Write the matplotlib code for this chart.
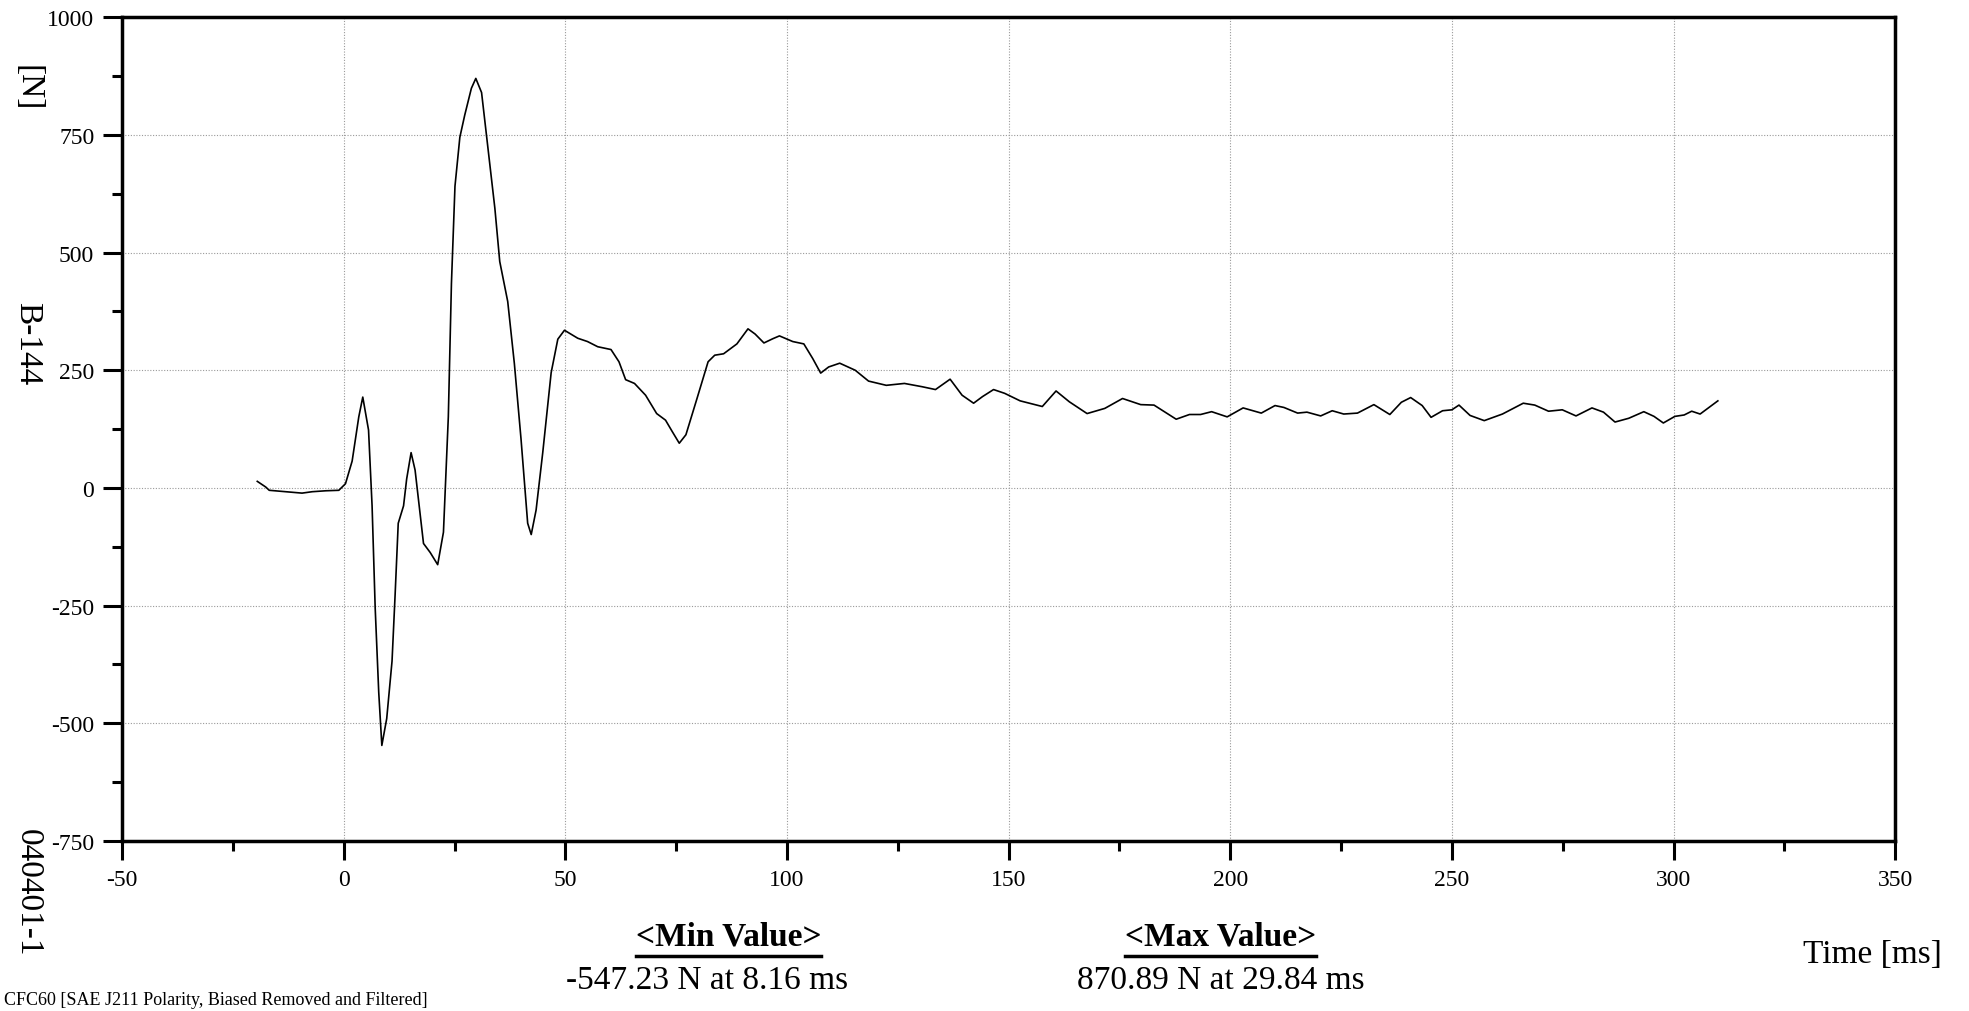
import numpy as np
import matplotlib
matplotlib.use('Agg')
import matplotlib.pyplot as plt
from matplotlib.lines import Line2D
from matplotlib.ticker import MultipleLocator

plt.rcParams['font.family'] = ['Liberation Serif', 'DejaVu Serif']
plt.rcParams['axes.unicode_minus'] = False

# force trace: time [ms], force [N]
time_ms = [-19.5, -17.6, -16.8, -13.0, -9.4, -7.1, -4.0, -1.1, 0.4, 1.9, 3.4, 4.3,
           5.6, 6.4, 7.1, 7.9, 8.6, 9.7, 10.9, 11.6, 12.3, 13.5, 14.2, 15.2, 16.1,
           18.0, 19.5, 21.2, 22.5, 23.6, 24.3, 25.1, 26.2, 27.3, 28.8, 29.8, 31.1,
           32.6, 34.1, 35.2, 37.0, 38.5, 40.0, 41.5, 42.3, 43.4, 44.9, 46.8, 48.3,
           49.8, 52.8, 55.0, 57.3, 60.3, 62.1, 63.6, 65.6, 68.1, 70.6, 72.6, 74.1,
           75.7, 77.2, 79.7, 82.2, 83.7, 85.7, 88.7, 91.2, 92.8, 94.8, 96.8, 98.3,
           101.3, 103.8, 105.8, 107.6, 109.4, 111.9, 115.4, 118.4, 122.4, 126.5,
           130.5, 133.5, 136.8, 139.5, 142.1, 144.1, 146.6, 149.1, 152.6, 157.6,
           160.7, 163.7, 167.7, 171.7, 175.7, 179.8, 182.8, 187.8, 190.8, 193.3,
           195.8, 199.3, 202.9, 207.0, 210.1, 212.1, 215.2, 217.3, 220.4, 223.0,
           225.6, 228.7, 232.4, 236.0, 238.6, 240.7, 243.3, 245.3, 247.9, 250.0,
           251.6, 254.1, 257.3, 261.4, 266.1, 268.7, 271.8, 274.9, 278.0, 281.6,
           284.2, 286.8, 289.9, 293.3, 295.6, 297.7, 300.3, 302.4, 304.1, 306.0,
           310.0]
force_n = [14, 2, -5, -8, -11, -8, -6, -5, 9, 57, 151, 193,
           123, -38, -255, -434, -547, -490, -368, -226, -75, -38, 19, 75, 38,
           -118, -137, -163, -94, 151, 434, 641, 745, 792, 849, 870, 840,
           717, 594, 481, 396, 264, 104, -75, -99, -47, 75, 245, 316,
           335, 318, 311, 300, 294, 268, 230, 222, 197, 158, 144, 120,
           95, 113, 190, 268, 282, 285, 306, 338, 327, 308, 317, 323,
           311, 306, 275, 244, 257, 265, 250, 227, 218, 222,
           215, 209, 231, 197, 180, 194, 209, 201, 185, 173,
           206, 183, 158, 169, 190, 177, 176, 146, 156, 156,
           162, 151, 170, 159, 175, 171, 159, 161, 153, 164,
           157, 159, 177, 156, 182, 192, 175, 150, 164, 166,
           176, 154, 143, 157, 180, 176, 163, 166, 153, 170,
           161, 140, 148, 162, 152, 138, 152, 155, 163, 157,
           185]

min_text = '-547.23 N at 8.16 ms'
max_text = '870.89 N at 29.84 ms'

fig = plt.figure(figsize=(19.69, 10.12), dpi=100)
ax = fig.add_axes([0.062, 0.168, 0.9005, 0.814])

ax.plot(time_ms, force_n, color='black', lw=1.2)

ax.set_xlim(-50, 350)
ax.set_ylim(-750, 1000)
ax.xaxis.set_major_locator(MultipleLocator(50))
ax.xaxis.set_minor_locator(MultipleLocator(25))
ax.yaxis.set_major_locator(MultipleLocator(250))
ax.yaxis.set_minor_locator(MultipleLocator(125))
ax.tick_params(which='major', direction='out', length=14, width=2.2,
               labelsize=17, pad=6)
ax.tick_params(which='minor', direction='out', length=7, width=2.2)
ax.grid(True, which='major', color='#9a9a9a', ls=(0, (1, 1.5)), lw=0.8)
for s in ax.spines.values():
    s.set_linewidth(2.5)

fig.text(0.014, 0.913, '[N]', rotation=-90, fontsize=24, ha='center', va='center')
fig.text(0.014, 0.66, 'B-144', rotation=-90, fontsize=24, ha='center', va='center')
fig.text(0.014, 0.118, '040401-1', rotation=-90, fontsize=24, ha='center', va='center')

t1 = fig.text(0.370, 0.074, '<Min Value>', fontsize=24, fontweight='bold',
              ha='center', va='center')
t2 = fig.text(0.620, 0.074, '<Max Value>', fontsize=24, fontweight='bold',
              ha='center', va='center')
fig.text(0.359, 0.031, min_text, fontsize=24, ha='center', va='center')
fig.text(0.620, 0.031, max_text, fontsize=24, ha='center', va='center')
fig.text(0.951, 0.057, 'Time [ms]', fontsize=24, ha='center', va='center')
fig.text(0.002, 0.011, 'CFC60 [SAE J211 Polarity, Biased Removed and Filtered]',
         fontsize=13, ha='left', va='center')

# underline the bold headers
fig.canvas.draw()
r = fig.canvas.get_renderer()
for t in (t1, t2):
    bb = t.get_window_extent(r).transformed(fig.transFigure.inverted())
    fig.add_artist(Line2D([bb.x0, bb.x1], [bb.y0 - 0.004, bb.y0 - 0.004],
                          color='black', lw=2.5, transform=fig.transFigure))

fig.savefig('out.png', dpi=100)
